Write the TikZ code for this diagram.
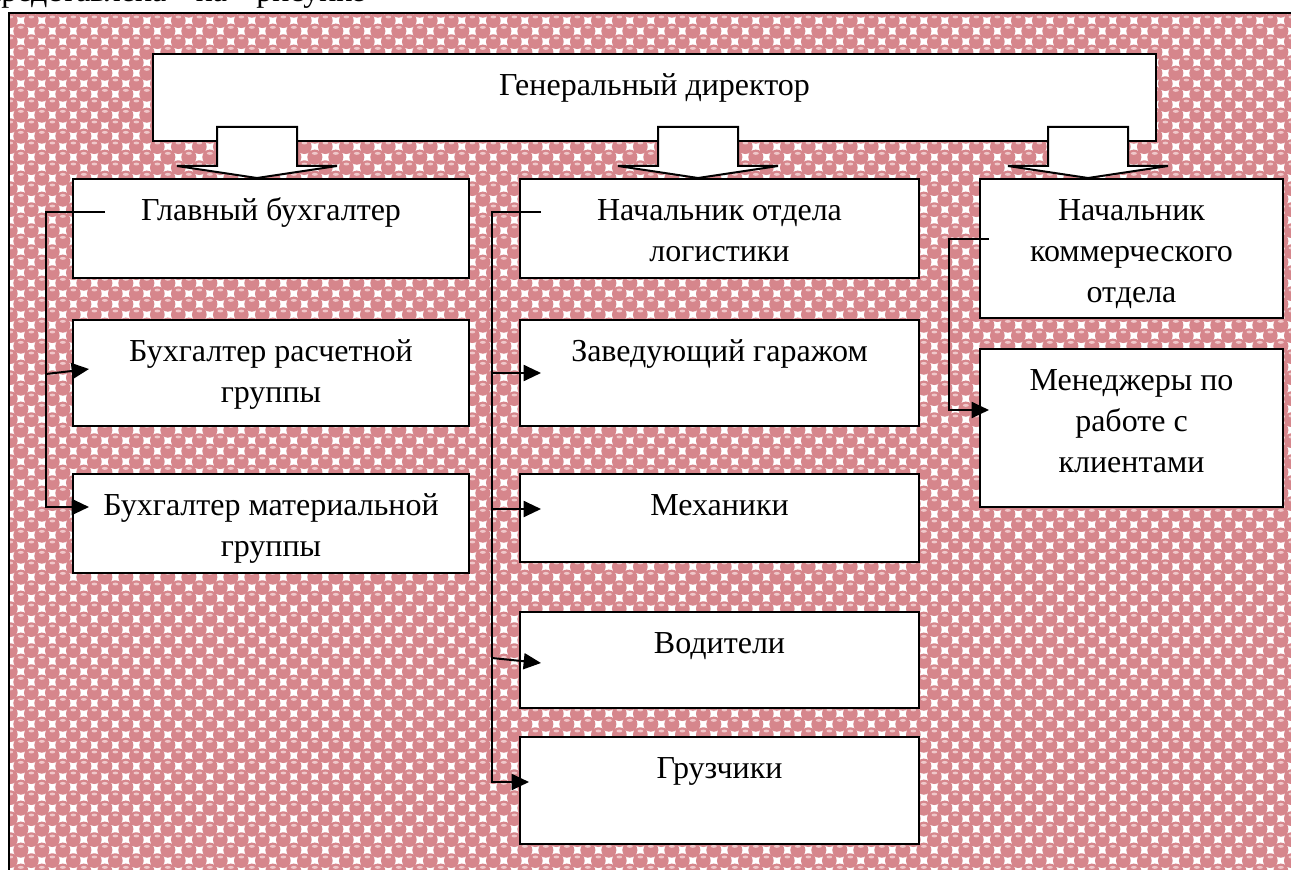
\documentclass[tikz,border=0pt]{standalone}
\usepackage{fontspec}
\setmainfont{Liberation Serif}
\usetikzlibrary{positioning,calc,patterns,arrows.meta}

\definecolor{dotpink}{RGB}{214,134,140}
\definecolor{dotshine}{RGB}{240,200,202}

\pgfdeclarepatterninherentlycolored{pinkdots}
  {\pgfqpoint{0pt}{0pt}}{\pgfqpoint{16pt}{16pt}}{\pgfqpoint{16pt}{16pt}}
  {%
    \pgfsetfillcolor{white}%
    \pgfpathrectangle{\pgfqpoint{0pt}{0pt}}{\pgfqpoint{16pt}{16pt}}%
    \pgfusepath{fill}%
    \pgfsetfillcolor{dotpink}%
    \pgfpathcircle{\pgfqpoint{0pt}{0pt}}{5.7pt}%
    \pgfpathcircle{\pgfqpoint{16pt}{0pt}}{5.7pt}%
    \pgfpathcircle{\pgfqpoint{0pt}{16pt}}{5.7pt}%
    \pgfpathcircle{\pgfqpoint{16pt}{16pt}}{5.7pt}%
    \pgfpathcircle{\pgfqpoint{8pt}{8pt}}{5.7pt}%
    \pgfusepath{fill}%
    \pgfsetfillcolor{dotshine}%
    \pgfpathellipse{\pgfqpoint{8pt}{10.8pt}}{\pgfqpoint{2.2pt}{0pt}}{\pgfqpoint{0pt}{1.1pt}}%
    \pgfpathellipse{\pgfqpoint{0pt}{2.8pt}}{\pgfqpoint{2.2pt}{0pt}}{\pgfqpoint{0pt}{1.1pt}}%
    \pgfpathellipse{\pgfqpoint{16pt}{2.8pt}}{\pgfqpoint{2.2pt}{0pt}}{\pgfqpoint{0pt}{1.1pt}}%
    \pgfusepath{fill}%
  }

\newcommand{\unittext}[3]{\parbox[c][#2][t]{#1}{\centering\rule{0pt}{31pt}#3}}

\begin{document}
\begin{tikzpicture}[x=0.75pt,y=-0.75pt,
  font=\fontsize{24}{30.75}\selectfont,
  unit/.style={draw,fill=white,line width=1.5pt,inner sep=0pt},
  link/.style={line width=1.5pt},
  pointer/.style={link,-{Triangle[length=13pt,width=12pt]}},
  blockarrow/.style={draw,fill=white,line width=1.5pt,line join=miter}]
  \useasboundingbox (0,0) rectangle (1291,870);
  \clip (0,0) rectangle (1291,870);
  % line of text above the chart (cut off)
  \node[anchor=base west,inner sep=0pt] (caption) at (-16,2)
    {представлена\hspace{22pt}на\hspace{22pt}рисунке};
  % background
  \draw[line width=1.5pt,pattern=pinkdots] (9,13) rectangle (1320,900);
  % director
  \node[unit,anchor=north west] (gd) at (152,53)
    {\unittext{752.25pt}{65.25pt}{Генеральный директор}};
  % accounting
  \node[unit,anchor=north west] (acc) at (72,178)
    {\unittext{297pt}{74.25pt}{Главный бухгалтер}};
  \node[unit] (calc) [below=30pt of acc]
    {\unittext{297pt}{79.5pt}{Бухгалтер расчетной\\группы}};
  \node[unit] (mat) [below=34.5pt of calc]
    {\unittext{297pt}{74.25pt}{Бухгалтер материальной\\группы}};
  % logistics
  \node[unit,anchor=north west] (log) at (519,178)
    {\unittext{299.25pt}{74.25pt}{Начальник отдела\\логистики}};
  \node[unit] (gar) [below=30pt of log]
    {\unittext{299.25pt}{79.5pt}{Заведующий гаражом}};
  \node[unit] (mech) [below=34.5pt of gar]
    {\unittext{299.25pt}{66pt}{Механики}};
  \node[unit] (vod) [below=36pt of mech]
    {\unittext{299.25pt}{72pt}{Водители}};
  \node[unit] (gruz) [below=20.25pt of vod]
    {\unittext{299.25pt}{80.25pt}{Грузчики}};
  % commerce
  \node[unit,anchor=north west] (com) at (979,178)
    {\unittext{227.25pt}{104.25pt}{Начальник\\коммерческого\\отдела}};
  \node[unit] (man) [below=21.75pt of com]
    {\unittext{227.25pt}{118.5pt}{Менеджеры по\\работе с\\клиентами}};
  % block arrows from the director
  \foreach \cx in {257,698,1088}
    \draw[blockarrow] (\cx-40,127) -- (\cx-40,166) -- (\cx-80,166) -- (\cx,178)
      -- (\cx+80,166) -- (\cx+40,166) -- (\cx+40,127) -- cycle;
  % links
  \draw[pointer] ($(acc.north west)+(33,34)$) -| ($(mat.north west)+(-26,34)$)
    -- ($(mat.north west)+(17,34)$);
  \draw[pointer] ($(calc.north west)+(-26,55)$) -- ($(calc.north west)+(17,50)$);
  \draw[pointer] ($(log.north west)+(22,34)$) -| ($(gruz.north west)+(-27,46)$)
    -- ($(gruz.north west)+(10,46)$);
  \draw[pointer] ($(gar.north west)+(-27,54)$) -- ($(gar.north west)+(22,54)$);
  \draw[pointer] ($(mech.north west)+(-27,36)$) -- ($(mech.north west)+(22,36)$);
  \draw[pointer] ($(vod.north west)+(-27,47)$) -- ($(vod.north west)+(22,52)$);
  \draw[pointer] ($(com.north west)+(10,61)$) -| ($(man.north west)+(-30,62)$)
    -- ($(man.north west)+(10,62)$);
\end{tikzpicture}
\end{document}
